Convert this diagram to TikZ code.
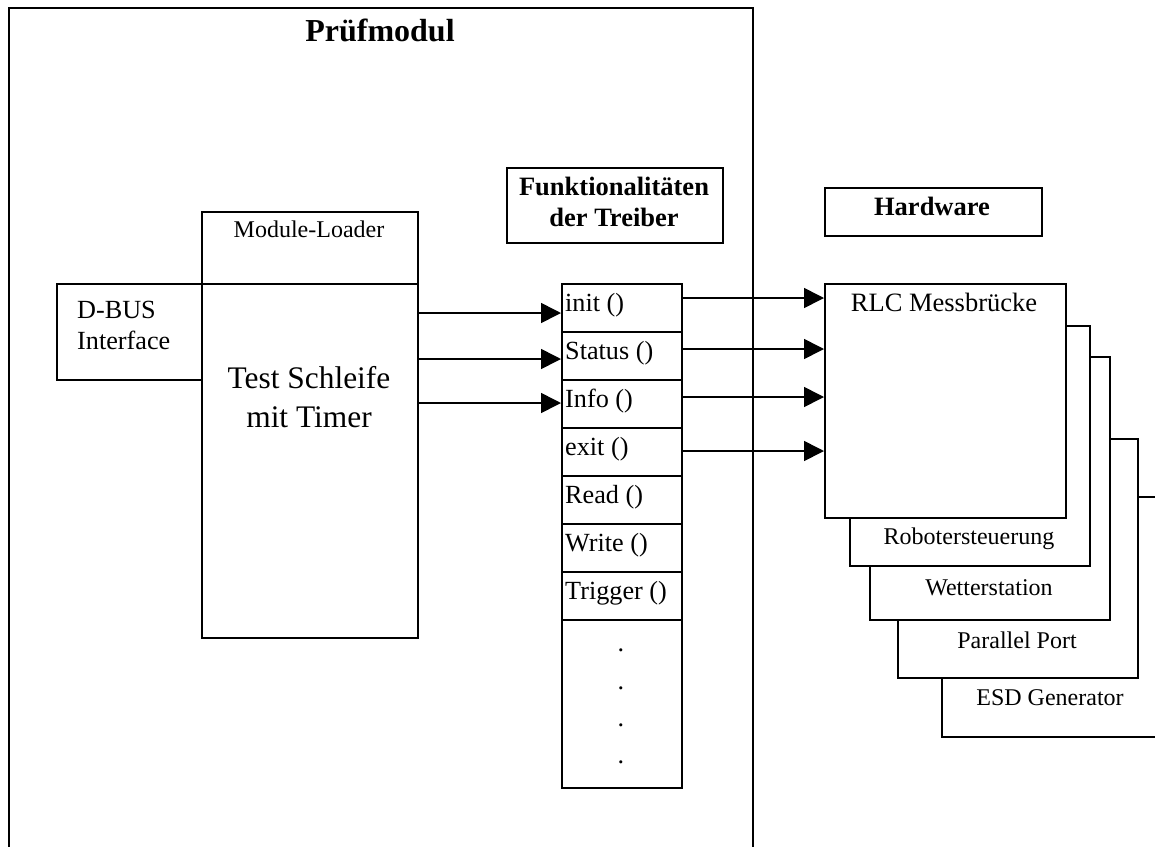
\documentclass[tikz,border=0pt]{standalone}
\usepackage{fontspec}
\setmainfont{Liberation Serif}
\usetikzlibrary{arrows.meta}

\tikzset{
  box/.style={draw, rectangle, line width=1.6pt, fill=white, inner sep=0pt, anchor=north west},
  arr/.style={line width=1.6pt, -{Triangle[length=20pt,width=20pt]}},
  txt/.style={inner sep=0pt, anchor=base, font=\fontsize{26.2}{31}\selectfont},
  txtl/.style={txt, anchor=base west},
  small/.style={inner sep=0pt, anchor=base, font=\fontsize{24}{29}\selectfont},
  head/.style={inner sep=0pt, anchor=base, font=\fontsize{26.5}{31}\selectfont\bfseries},
  big/.style={inner sep=0pt, anchor=base, font=\fontsize{31.4}{38}\selectfont},
  title/.style={inner sep=0pt, anchor=base, font=\fontsize{32}{38}\selectfont\bfseries},
  fnrow/.style={box, minimum width=120pt, minimum height=48pt}
}

\begin{document}
\begin{tikzpicture}[x=1pt, y=-1pt]
  \useasboundingbox (0,0) rectangle (1155,846);
  \clip (0,0) rectangle (1155,846);

  % module frame
  \node[box, fill=none, minimum width=744pt, minimum height=870pt] (pm) at (8,7) {};
  \node[title] (pmt) at (380,41) {Prüfmodul};

  % headings
  \node[box, minimum width=216pt, minimum height=75pt] (fhead) at (506,167) {};
  \node[head] (fh1) at (614,195) {Funktionalitäten};
  \node[head] (fh2) at (614,226) {der Treiber};
  \node[box, minimum width=217pt, minimum height=48pt] (hwhead) at (824,187) {};
  \node[head] (hwt) at (932,215) {Hardware};

  % loader, test loop and bus interface
  \node[box, minimum width=216pt, minimum height=72pt] (loader) at (201,211) {};
  \node[small] (loadert) at (309,237) {Module-Loader};
  \node[box, minimum width=216pt, minimum height=354pt] (test) at (201,283) {};
  \node[big] (test1) at (309,388) {Test Schleife};
  \node[big] (test2) at (309,427) {mit Timer};
  \node[box, minimum width=145pt, minimum height=96pt] (dbus) at (56,283) {};
  \node[txtl] (dbus1) at (77,318) {D-BUS};
  \node[txtl] (dbus2) at (77,349) {Interface};

  % driver functions
  \node[fnrow] (finit) at (561,283) {};
  \node[fnrow] (fstat) at (561,331) {};
  \node[fnrow] (finfo) at (561,379) {};
  \node[fnrow] (fexit) at (561,427) {};
  \node[fnrow] (fread) at (561,475) {};
  \node[fnrow] (fwrite) at (561,523) {};
  \node[fnrow] (ftrig) at (561,571) {};
  \node[fnrow, minimum height=168pt] (fmore) at (561,619) {};
  \node[txtl] (tinit) at (565,311) {init ()};
  \node[txtl] (tstat) at (565,359) {Status ()};
  \node[txtl] (tinfo) at (565,407) {Info ()};
  \node[txtl] (texit) at (565,455) {exit ()};
  \node[txtl] (tread) at (565,503) {Read ()};
  \node[txtl] (twrite) at (565,551) {Write ()};
  \node[txtl] (ttrig) at (565,599) {Trigger ()};
  \node[txt] (d1) at (621,651) {.};
  \node[txt] (d2) at (621,689) {.};
  \node[txt] (d3) at (621,726) {.};
  \node[txt] (d4) at (621,763) {.};

  % hardware stack, back to front
  \node[box, minimum width=240pt, minimum height=240pt] (esd) at (941,496) {};
  \node[small] (esdt) at (1050,705) {ESD Generator};
  \node[box, minimum width=240pt, minimum height=239pt] (par) at (897,438) {};
  \node[small] (part) at (1017,648) {Parallel Port};
  \node[box, minimum width=240pt, minimum height=263pt] (wet) at (869,356) {};
  \node[small] (wett) at (989,595) {Wetterstation};
  \node[box, minimum width=240pt, minimum height=240pt] (rob) at (849,325) {};
  \node[small] (robt) at (969,544) {Robotersteuerung};
  \node[box, minimum width=241pt, minimum height=234pt] (rlc) at (824,283) {};
  \node[txt, font=\fontsize{26.5}{31}\selectfont] (rlct) at (944,311) {RLC Messbrücke};

  % calls from the test loop
  \draw[arr] (test.east |- 0,313) -- (finit.west |- 0,313);
  \draw[arr] (test.east |- 0,359) -- (fstat.west |- 0,359);
  \draw[arr] (test.east |- 0,403) -- (finfo.west |- 0,403);

  % driver calls to the hardware
  \draw[arr] (finit.east |- 0,298) -- (rlc.west |- 0,298);
  \draw[arr] (fstat.east |- 0,349) -- (rlc.west |- 0,349);
  \draw[arr] (finfo.east |- 0,397) -- (rlc.west |- 0,397);
  \draw[arr] (fexit.east |- 0,451) -- (rlc.west |- 0,451);
\end{tikzpicture}
\end{document}
